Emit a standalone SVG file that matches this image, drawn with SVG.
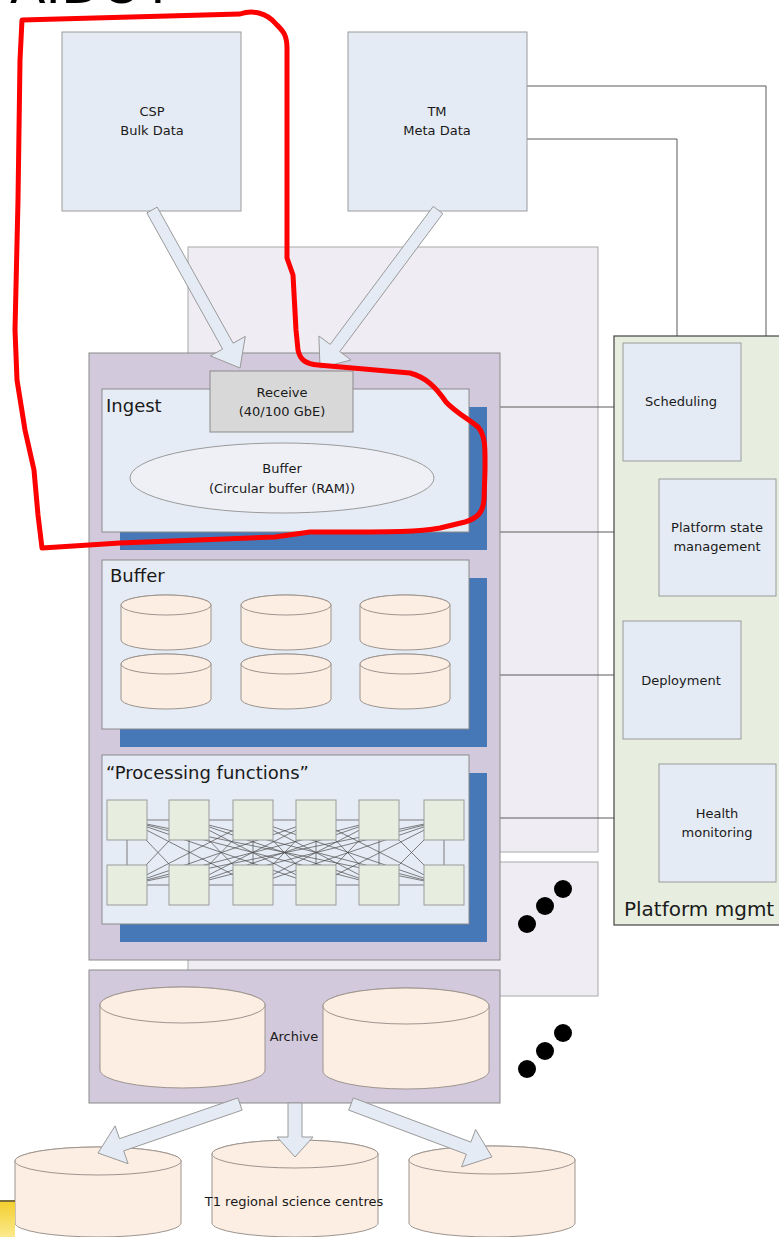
<svg xmlns="http://www.w3.org/2000/svg" width="779" height="1237" viewBox="0 0 779 1237">
  <style>
    text { font-family: "DejaVu Sans", Verdana, sans-serif; fill: #1a1a1a; }
    .lbl { font-size: 13px; text-anchor: middle; }
    .hd { font-size: 18px; }
    .box { fill: #e5ebf4; stroke: #9a9a9a; stroke-width: 1; }
    .panel { fill: #e6ecf5; stroke: #8a8a8a; stroke-width: 1; }
    .shadow { fill: #4677b7; }
    .purple { fill: #d3c9dc; stroke: #8a8a8a; stroke-width: 1; }
    .lav { fill: #efedf3; stroke: #a8a8a8; stroke-width: 1; }
    .cyl { fill: #fdeee3; stroke: #9c948e; stroke-width: 1; }
    .node { fill: #e8eedf; stroke: #9a9a9a; stroke-width: 1; }
    .wire { fill: none; stroke: #5a5a5a; stroke-width: 1; }
    .barrow { fill: #e5ebf4; stroke: #9a9a9a; stroke-width: 1; stroke-linejoin: miter; }
    .dot { fill: #000; }
  </style>
  <defs>
    <linearGradient id="gold" x1="0" y1="0" x2="0" y2="1">
      <stop offset="0" stop-color="#f3cf2c"/>
      <stop offset="1" stop-color="#fbe98e"/>
    </linearGradient>
  </defs>

  <rect width="779" height="1237" fill="#ffffff"/>

  <!-- title, clipped by the page edge -->
  <text x="10" y="3" style="font-family:'DejaVu Sans',Verdana,sans-serif;font-size:52px;fill:#000">AIDOT</text>

  <!-- background lanes -->
  <g id="lane-back">
    <rect class="lav" x="188" y="247" width="410" height="605"/>
    <rect class="lav" x="188" y="862" width="410" height="134"/>
  </g>

  <!-- connectors -->
  <g id="connectors">
    <path class="wire" d="M527 86 H766 V479"/>
    <path class="wire" d="M527 139 H677 V343"/>
    <path class="wire" d="M500 407 H623"/>
    <path class="wire" d="M500 532 H659"/>
    <path class="wire" d="M500 675 H623"/>
    <path class="wire" d="M500 818 H659"/>
  </g>

  <!-- data sources -->
  <g id="csp">
    <rect class="box" x="62" y="32" width="179" height="179"/>
    <text class="lbl" x="152" y="116">CSP</text>
    <text class="lbl" x="152" y="135">Bulk Data</text>
  </g>
  <g id="tm">
    <rect class="box" x="348" y="32" width="179" height="179"/>
    <text class="lbl" x="437" y="116">TM</text>
    <text class="lbl" x="437" y="135">Meta Data</text>
  </g>

  <!-- platform management -->
  <g id="platform-mgmt">
    <rect x="614" y="336" width="175" height="589" fill="#e8eedf" stroke="#444" stroke-width="1.2"/>
    <text x="624" y="916" style="font-size:20px">Platform mgmt</text>
  </g>
  <g id="scheduling">
    <rect class="box" x="623" y="343" width="118" height="118"/>
    <text class="lbl" x="681" y="406">Scheduling</text>
  </g>
  <g id="state-mgmt">
    <rect class="box" x="659" y="479" width="117" height="117"/>
    <text class="lbl" x="717" y="532">Platform state</text>
    <text class="lbl" x="717" y="551">management</text>
  </g>
  <g id="deployment">
    <rect class="box" x="623" y="621" width="118" height="118"/>
    <text class="lbl" x="681" y="685">Deployment</text>
  </g>
  <g id="health">
    <rect class="box" x="659" y="764" width="117" height="118"/>
    <text class="lbl" x="717" y="818">Health</text>
    <text class="lbl" x="717" y="837">monitoring</text>
  </g>

  <!-- processing stack -->
  <g id="sdp-stack">
    <rect class="purple" x="89" y="353" width="411" height="607"/>
  </g>

  <g id="ingest">
    <rect class="shadow" x="120" y="407" width="367" height="143"/>
    <rect class="panel" x="102" y="389" width="367" height="143"/>
    <text class="hd" x="106" y="412">Ingest</text>
    <ellipse cx="282" cy="478" rx="152" ry="35" fill="#eef0f5" stroke="#9a9a9a"/>
    <text class="lbl" x="282" y="473">Buffer</text>
    <text class="lbl" x="282" y="493">(Circular buffer (RAM))</text>
  </g>
  <g id="receive">
    <rect x="210" y="371" width="143" height="61" fill="#d8d8d8" stroke="#8a8a8a"/>
    <text class="lbl" x="282" y="397">Receive</text>
    <text class="lbl" x="282" y="416">(40/100 GbE)</text>
  </g>

  <g id="buffer">
    <rect class="shadow" x="120" y="578" width="367" height="169"/>
    <rect class="panel" x="102" y="560" width="367" height="169"/>
    <text class="hd" x="110" y="582">Buffer</text>
    <g id="buffer-disks">
      <path class="cyl" d="M121 605 V640 A45 10 0 0 0 211 640 V605 A45 10 0 0 0 121 605 Z"/>
      <ellipse class="cyl" cx="166" cy="605" rx="45" ry="10"/>
      <path class="cyl" d="M241 605 V640 A45 10 0 0 0 331 640 V605 A45 10 0 0 0 241 605 Z"/>
      <ellipse class="cyl" cx="286" cy="605" rx="45" ry="10"/>
      <path class="cyl" d="M360 605 V640 A45 10 0 0 0 450 640 V605 A45 10 0 0 0 360 605 Z"/>
      <ellipse class="cyl" cx="405" cy="605" rx="45" ry="10"/>
      <path class="cyl" d="M121 664 V699 A45 10 0 0 0 211 699 V664 A45 10 0 0 0 121 664 Z"/>
      <ellipse class="cyl" cx="166" cy="664" rx="45" ry="10"/>
      <path class="cyl" d="M241 664 V699 A45 10 0 0 0 331 699 V664 A45 10 0 0 0 241 664 Z"/>
      <ellipse class="cyl" cx="286" cy="664" rx="45" ry="10"/>
      <path class="cyl" d="M360 664 V699 A45 10 0 0 0 450 699 V664 A45 10 0 0 0 360 664 Z"/>
      <ellipse class="cyl" cx="405" cy="664" rx="45" ry="10"/>
    </g>
  </g>

  <g id="processing">
    <rect class="shadow" x="120" y="773" width="367" height="169"/>
    <rect class="panel" x="102" y="755" width="367" height="169"/>
    <text class="hd" x="106" y="779">“Processing functions”</text>
    <!-- interconnect mesh -->
    <path fill="none" stroke="#4a4a4a" stroke-width="0.7" d="
      M127 820 H444 M127 885 H444
      M127 820 V885 M189 820 V885 M253 820 V885 M316 820 V885 M379 820 V885 M444 820 V885
      M127 820 L189 885 M127 820 L253 885 M127 820 L316 885 M127 820 L379 885 M127 820 L444 885
      M189 820 L127 885 M189 820 L253 885 M189 820 L316 885 M189 820 L379 885 M189 820 L444 885
      M253 820 L127 885 M253 820 L189 885 M253 820 L316 885 M253 820 L379 885 M253 820 L444 885
      M316 820 L127 885 M316 820 L189 885 M316 820 L253 885 M316 820 L379 885 M316 820 L444 885
      M379 820 L127 885 M379 820 L189 885 M379 820 L253 885 M379 820 L316 885 M379 820 L444 885
      M444 820 L127 885 M444 820 L189 885 M444 820 L253 885 M444 820 L316 885 M444 820 L379 885"/>
    <rect class="node" x="107" y="800" width="40" height="40"/>
    <rect class="node" x="169" y="800" width="40" height="40"/>
    <rect class="node" x="233" y="800" width="40" height="40"/>
    <rect class="node" x="296" y="800" width="40" height="40"/>
    <rect class="node" x="359" y="800" width="40" height="40"/>
    <rect class="node" x="424" y="800" width="40" height="40"/>
    <rect class="node" x="107" y="865" width="40" height="40"/>
    <rect class="node" x="169" y="865" width="40" height="40"/>
    <rect class="node" x="233" y="865" width="40" height="40"/>
    <rect class="node" x="296" y="865" width="40" height="40"/>
    <rect class="node" x="359" y="865" width="40" height="40"/>
    <rect class="node" x="424" y="865" width="40" height="40"/>
  </g>

  <!-- more instances -->
  <g id="ellipsis-1">
    <circle class="dot" cx="527" cy="924" r="9"/>
    <circle class="dot" cx="545" cy="906" r="9"/>
    <circle class="dot" cx="563" cy="889" r="9"/>
  </g>
  <g id="ellipsis-2">
    <circle class="dot" cx="527" cy="1069" r="9"/>
    <circle class="dot" cx="545" cy="1051" r="9"/>
    <circle class="dot" cx="563" cy="1033" r="9"/>
  </g>

  <!-- archive -->
  <g id="archive">
    <rect class="purple" x="89" y="970" width="411" height="133"/>
    <path class="cyl" d="M100 1005 V1070 A82.5 18 0 0 0 265 1070 V1005 A82.5 18 0 0 0 100 1005 Z"/>
    <ellipse class="cyl" cx="182.5" cy="1005" rx="82.5" ry="18"/>
    <path class="cyl" d="M323 1006 V1071 A83 18 0 0 0 489 1071 V1006 A83 18 0 0 0 323 1006 Z"/>
    <ellipse class="cyl" cx="406" cy="1006" rx="83" ry="18"/>
    <text class="lbl" x="294" y="1041">Archive</text>
  </g>

  <!-- regional centres -->
  <g id="t1-centres">
    <path class="cyl" d="M15 1161 V1223 A83 14 0 0 0 181 1223 V1161 A83 14 0 0 0 15 1161 Z"/>
    <ellipse class="cyl" cx="98" cy="1161" rx="83" ry="14"/>
    <path class="cyl" d="M212 1154 V1223 A83 14 0 0 0 378 1223 V1154 A83 14 0 0 0 212 1154 Z"/>
    <ellipse class="cyl" cx="295" cy="1154" rx="83" ry="14"/>
    <path class="cyl" d="M409 1160 V1223 A83 14 0 0 0 575 1223 V1160 A83 14 0 0 0 409 1160 Z"/>
    <ellipse class="cyl" cx="492" cy="1160" rx="83" ry="14"/>
    <text class="lbl" x="294" y="1206">T1 regional science centres</text>
  </g>

  <!-- data flow arrows -->
  <g id="flow-arrows">
    <polygon class="barrow" points="146.8,212.9 222.6,349.1 210.4,355.9 240,368 245.3,336.4 233.1,343.2 157.2,207.1"/>
    <polygon class="barrow" points="442.8,213.6 339.8,351.6 351.0,360.0 320,368 318.9,336.0 330.2,344.4 433.2,206.4"/>
    <polygon class="barrow" points="288,1103 288,1137 277,1137 295,1157 313,1137 302,1137 302,1103"/>
    <polygon class="barrow" points="242.1,1110.1 123.7,1150.9 128.1,1163.7 98,1153 115.1,1125.9 119.5,1138.7 237.9,1097.9"/>
    <polygon class="barrow" points="348.7,1110.1 466.3,1154.3 461.6,1166.9 492,1157 475.6,1129.5 470.9,1142.1 353.3,1097.9"/>
  </g>

  <!-- page footer mark -->
  <rect x="0" y="1201" width="15" height="36" fill="url(#gold)"/>
  <line x1="0" y1="1201" x2="15" y2="1201" stroke="#7d6f3c" stroke-width="2"/>

  <!-- hand-drawn highlight -->
  <path fill="none" stroke="#ff0000" stroke-width="5" stroke-linejoin="round" stroke-linecap="round"
    d="M22 20 L240 14 C252 10 266 12 276 24 C282 30 287 34 287 48 L287 258 L293 275 L296 330 L298 350 C300 360 306 364 318 365 L410 373 C425 377 435 386 446 402 C455 412 470 420 478 427 C486 436 485 450 485 470 L484 500 C483 512 478 518 465 522 L440 528 C420 532 400 532 310 532 L275 537 L120 543 L42 548 L38 515 L34 470 L25 430 L17 380 L15 330 L18 200 L20 60 Z"/>
</svg>
